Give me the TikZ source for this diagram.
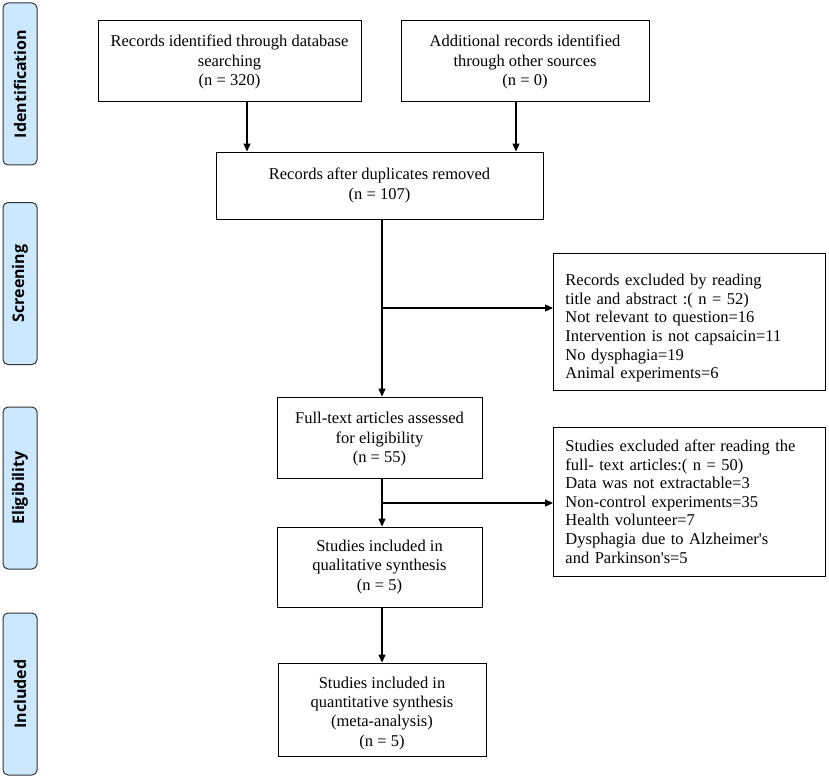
\documentclass[tikz,border=0pt]{standalone}
\usepackage{fontspec}
\setmainfont{Liberation Serif}
\newfontfamily\labelfont{Open Sans}
\usetikzlibrary{arrows.meta}
\definecolor{phasefill}{HTML}{CCE8FF}
\definecolor{phasedraw}{HTML}{333333}
\begin{document}
\begin{tikzpicture}[x=1pt,y=-1pt,
  box/.style={draw=black,line width=0.9pt,align=center,inner sep=0pt,font=\fontsize{16.5}{19.3}\selectfont},
  exbox/.style={draw=black,line width=0.9pt,align=left,inner xsep=12pt,inner ysep=0pt,text width=248pt,font=\fontsize{16.5}{18.6}\selectfont},
  phase/.style={draw=phasedraw,fill=phasefill,line width=1pt,rounded corners=5pt,minimum width=34pt,minimum height=162pt,inner sep=0pt},
  phasetext/.style={rotate=90,font=\labelfont\bfseries\fontsize{16}{18}\selectfont},
  arr/.style={line width=1.2pt,-{Triangle[length=8pt,width=7pt]}},
  ln/.style={line width=1.2pt}]
\useasboundingbox (0,0) rectangle (829,778);
% phase labels
\node[phase] (p1) at (20,84) {};
\node[phasetext] at (p1) {Identification};
\node[phase] (p2) at (20,283.5) {};
\node[phasetext] at (p2) {Screening};
\node[phase] (p3) at (20,488) {};
\node[phasetext] at (p3) {Eligibility};
\node[phase] (p4) at (20,694) {};
\node[phasetext] at (p4) {Included};
% boxes
\node[box,minimum width=263pt,minimum height=81pt] (b1) at (229.5,60.5) {\rule{0pt}{15pt}Records identified through database\\searching\\(n = 320)};
\node[box,minimum width=248pt,minimum height=81pt] (b2) at (525,60.5) {\rule{0pt}{15pt}Additional records identified\\through other sources\\(n = 0)};
\node[box,minimum width=327pt,minimum height=67pt] (b3) at (379.5,185.5) {Records after duplicates removed\\(n = 107)};
\node[box,minimum width=205pt,minimum height=81pt] (b4) at (379.5,437.5) {\rule{0pt}{15pt}Full-text articles assessed\\for eligibility\\(n = 55)};
\node[box,minimum width=205pt,minimum height=80pt] (b5) at (379.5,567) {Studies included in\\qualitative synthesis\\(n = 5)};
\node[box,minimum width=208pt,minimum height=93pt] (b6) at (382,709.5) {\rule{0pt}{19pt}Studies included in\\quantitative synthesis\\(meta-analysis)\\(n = 5)};
\node[exbox,minimum height=137pt,anchor=west] (e1) at (553,321.5) {\rule{0pt}{25pt}Records excluded by reading\\title and abstract :( n = 52)\\Not relevant to question=16\\Intervention is not capsaicin=11\\No dysphagia=19\\Animal experiments=6};
\node[exbox,minimum height=149pt,anchor=west] (e2) at (553,501.5) {Studies excluded after reading the\\full- text articles:( n = 50)\\Data was not extractable=3\\Non-control experiments=35\\Health volunteer=7\\Dysphagia due to Alzheimer\textquotesingle s\\and Parkinson\textquotesingle s=5};
% connectors
\coordinate (j1) at (382,308);
\coordinate (j2) at (382,503);
\draw[arr] (b1.south -| 247,0) -- (b3.north -| 247,0);
\draw[arr] (b2.south -| 516,0) -- (b3.north -| 516,0);
\draw[arr] (b3.south -| j1) -- (b4.north -| j1);
\draw[arr] (j1) -- (e1.west |- j1);
\draw[arr] (b4.south -| j2) -- (b5.north -| j2);
\draw[arr] (j2) -- (e2.west |- j2);
\draw[arr] (b5.south -| j2) -- (b6.north -| j2);
\end{tikzpicture}
\end{document}
